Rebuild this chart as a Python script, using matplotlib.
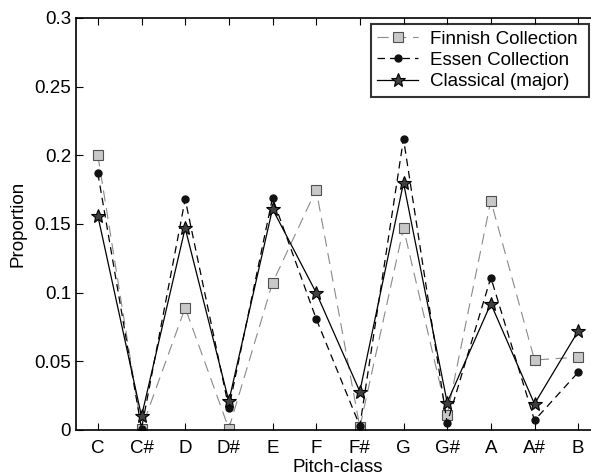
import numpy as np
import matplotlib.pyplot as plt

plt.rcParams['font.family'] = ['Liberation Sans', 'DejaVu Sans']

# pitch classes and the three profiles
pitch = ['C', 'C#', 'D', 'D#', 'E', 'F', 'F#', 'G', 'G#', 'A', 'A#', 'B']
finnish = [0.200, 0.001, 0.089, 0.001, 0.107, 0.175, 0.002, 0.147, 0.011, 0.167, 0.051, 0.053]
essen = [0.187, 0.001, 0.168, 0.016, 0.169, 0.081, 0.003, 0.212, 0.005, 0.111, 0.007, 0.042]
classical = [0.156, 0.010, 0.147, 0.021, 0.161, 0.100, 0.028, 0.180, 0.020, 0.092, 0.019, 0.072]

x = np.arange(1, len(pitch) + 1)

fig = plt.figure(figsize=(5.91, 4.76), dpi=100)
# axes run a bit past the right edge of the picture, as in the original
ax = fig.add_axes([76 / 591, 46 / 476, 524 / 591, 412 / 476])

ax.plot(x, finnish, color='#8a8a8a', lw=0.8, ls=(0, (10, 6)),
        marker='s', ms=6.5, mfc='#c8c8c8', mec='#505050', mew=0.8,
        label='Finnish Collection ')
ax.plot(x, essen, color='black', lw=0.9, ls=(0, (6, 4)),
        marker='o', ms=5, mfc='#111111', mec='#111111',
        label='Essen Collection ')
ax.plot(x, classical, color='black', lw=0.9, ls='-',
        marker='*', ms=10, mfc='#404040', mec='black', mew=0.8,
        label='Classical (major) ')

ax.set_xlim(0.5, 12.5)
ax.set_ylim(0, 0.3)
ax.set_xticks(x)
ax.set_xticklabels(pitch)
ax.set_yticks([0, 0.05, 0.1, 0.15, 0.2, 0.25, 0.3])
ax.set_yticklabels(['0', '0.05', '0.1', '0.15', '0.2', '0.25', '0.3'])
ax.tick_params(direction='in', length=5, width=0.8, labelsize=13.5,
               top=True, right=True, colors='black')
ax.tick_params(axis='x', pad=7)
for s in ax.spines.values():
    s.set_linewidth(1.2)

ax.set_xlabel('Pitch-class', fontsize=13.5, labelpad=2)
ax.set_ylabel('Proportion', fontsize=13.5, labelpad=6)

leg = ax.legend(loc='upper right', bbox_to_anchor=((589 - 76) / 524, 1 - 6 / 412),
                fontsize=13.5, frameon=True, fancybox=False, edgecolor='black',
                handlelength=2.2, borderpad=0.35, labelspacing=0.22,
                handletextpad=0.6, borderaxespad=0)
leg.get_frame().set_linewidth(1.5)

fig.savefig('out.png', dpi=100)
